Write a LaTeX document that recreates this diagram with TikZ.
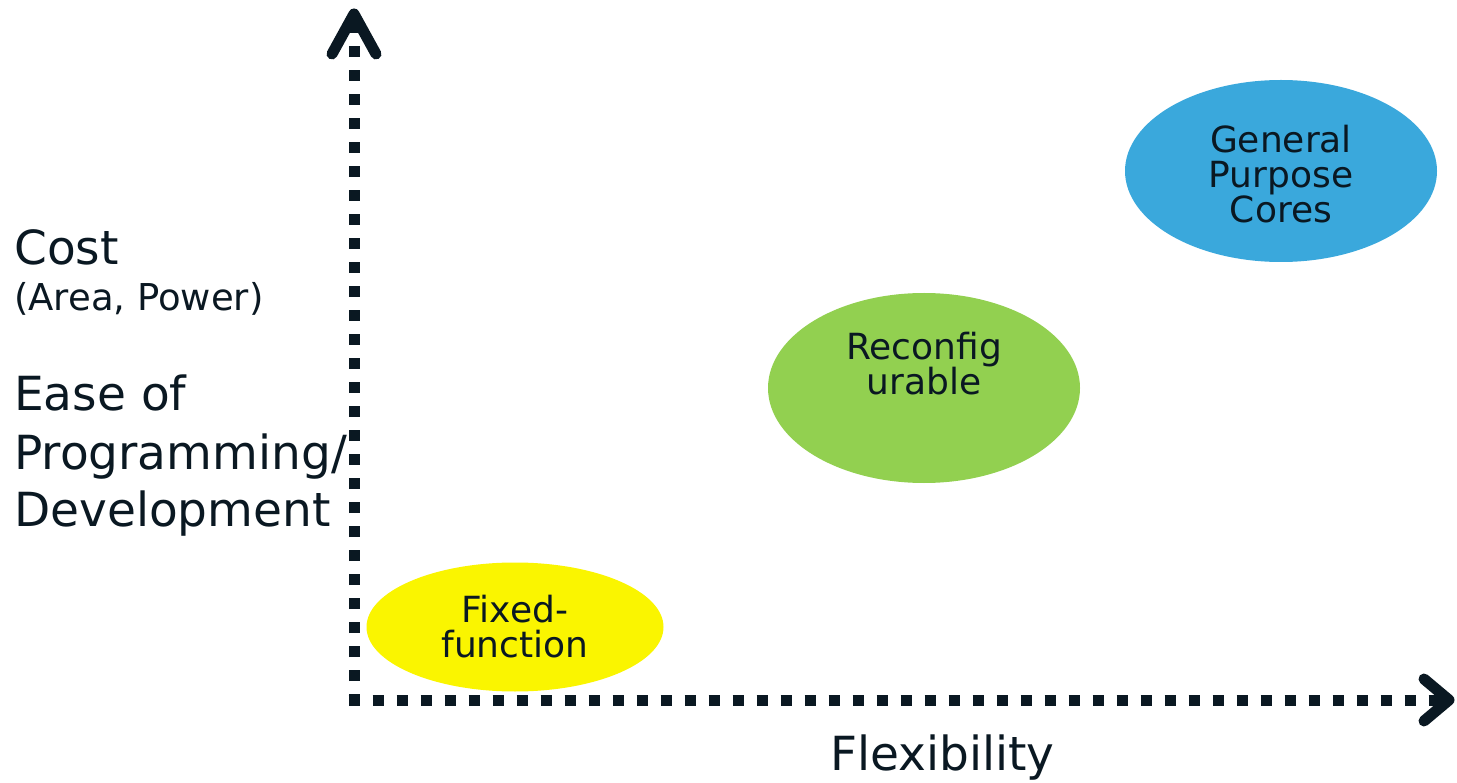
\documentclass[tikz,border=0pt]{standalone}
\usepackage{fontspec}
\setmainfont{DejaVu Sans}
\usetikzlibrary{shapes.geometric,positioning}
\definecolor{ink}{RGB}{10,24,34}
\definecolor{gpblue}{RGB}{58,168,220}
\definecolor{rcgreen}{RGB}{146,208,80}
\definecolor{ffyellow}{RGB}{250,245,0}

\begin{document}
\begin{tikzpicture}[
    x=1pt, y=-1pt,
    blob/.style={ellipse, inner sep=0pt},
    tag/.style={align=center, text=ink, inner sep=0pt, font=\fontsize{36}{35}\selectfont},
    axisline/.style={ink, line width=11pt, dash pattern=on 11pt off 13pt},
    axishead/.style={ink, line width=11pt, line cap=round, line join=round},
    bigtext/.style={anchor=base west, inner sep=0pt, text=ink, font=\fontsize{47}{56}\selectfont},
    smalltext/.style={anchor=base west, inner sep=0pt, text=ink, font=\fontsize{37}{40}\selectfont}
]
    \useasboundingbox (0,0) rectangle (1457,783);

    % Blobs
    \node[blob, fill=gpblue, minimum width=312pt, minimum height=182pt] (gp) at (1281,171) {};
    \node[blob, fill=rcgreen, minimum width=312pt, minimum height=190pt] (rc) at (924,388) {};
    \node[blob, fill=ffyellow, minimum width=297pt, minimum height=129pt] (ff) at (515,627) {};
    \node[tag] (gptext) at ([yshift=-3pt]gp.center) {General\\Purpose\\Cores};
    \node[tag] (rctext) at ([yshift=24pt]rc.center) {Reconfig\\urable};
    \node[tag] (fftext) at (ff.center) {Fixed-\\function};

    % Axes
    \coordinate (origin) at (354,705);
    \coordinate (ytop) at (354,14);
    \coordinate (xend) at (1449,700);
    \draw[axisline] (origin) -- (ytop);
    \draw[axisline] (348.5,700) -- (xend);
    \draw[axishead] (332,54) -- (ytop) -- (376,54);
    \draw[axishead] (1424,679) -- (xend) -- (1424,721);

    % Labels
    \node[bigtext] (cost) at (14,265) {Cost};
    \node[smalltext] (area) at (14,311) {(Area, Power)};
    \node[bigtext] (ease) at (14,411) {Ease of};
    \node[bigtext] (prog) at (14,469) {Programming/};
    \node[bigtext] (dev) at (14,526) {Development};
    \node[bigtext] (flex) at (830,770) {Flexibility};
\end{tikzpicture}
\end{document}
